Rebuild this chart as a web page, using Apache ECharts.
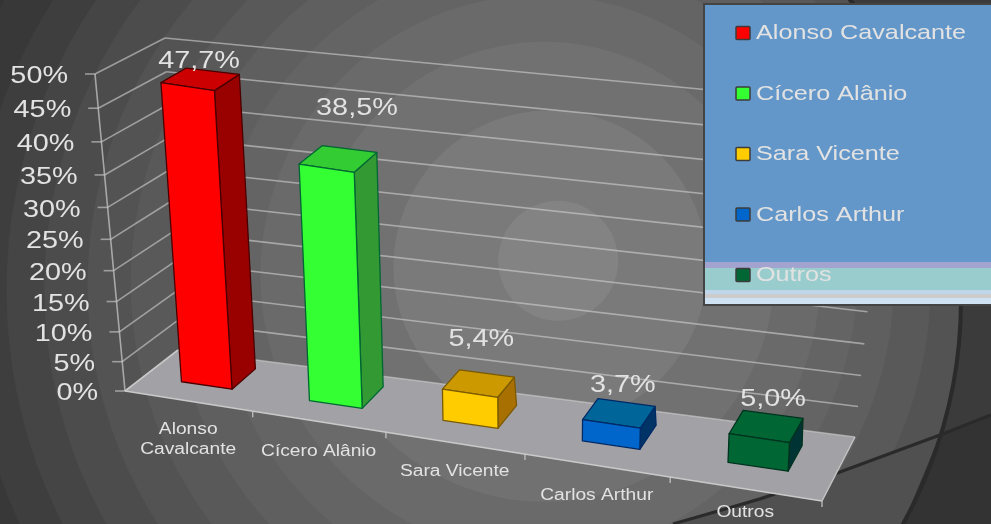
<!DOCTYPE html>
<html>
<head>
<meta charset="utf-8">
<style>html,body{margin:0;padding:0;background:#333}#main{width:991px;height:524px}#main canvas{filter:blur(0.7px)}</style>
<script src="https://cdn.jsdelivr.net/npm/echarts@6/dist/echarts.min.js"></script>
</head>
<body>
<div id="main"></div>
<script>
var categories = ['Alonso Cavalcante', 'Cícero Alânio', 'Sara Vicente', 'Carlos Arthur', 'Outros'];
var axisLabels = ['Alonso\nCavalcante', 'Cícero Alânio', 'Sara Vicente', 'Carlos Arthur', 'Outros'];
var shares = [47.7, 38.5, 5.4, 3.7, 5.0];
var shareLabels = ['47,7%', '38,5%', '5,4%', '3,7%', '5,0%'];
var yTicks = [0, 5, 10, 15, 20, 25, 30, 35, 40, 45, 50];
var yTickLabels = ['0%', '5%', '10%', '15%', '20%', '25%', '30%', '35%', '40%', '45%', '50%'];

var frontColors = ['#ff0000', '#33ff33', '#ffcc00', '#0066cc', '#006633'];
var sideColors = ['#990000', '#339933', '#a87000', '#003366', '#003333'];
var topColors = ['#cc0000', '#33cc33', '#cc9900', '#006699', '#006633'];
var edgeColors = ['#4a0000', '#006633', '#7a5a00', '#002a66', '#00331f'];

// the picture is a perspective box: corners of it on screen, [width, depth, height]
var box = {
    '000': [125, 391], '100': [822, 501], '010': [178, 350], '110': [855, 437],
    '001': [95, 74], '101': [832, 205], '011': [165, 38], '111': [888, 107]
};
var textFont = '"Liberation Sans", Arial, sans-serif';
var textColor = '#e2e2e2';

function warp(t, k) {
    return t / (t + k * (1 - t));
}
function mix(a, b, t) {
    return [a[0] + (b[0] - a[0]) * t, a[1] + (b[1] - a[1]) * t];
}
// u, v come in 0..1 from the axes of the grid, z is the depth on the floor
function project(u, z, v) {
    var wu = warp(u, 1.114), wv = warp(v, 1.09);
    var low = mix(mix(box['000'], box['100'], wu), mix(box['010'], box['110'], wu), z);
    var high = mix(mix(box['001'], box['101'], wu), mix(box['011'], box['111'], wu), z);
    return mix(low, high, wv);
}
function axisU(params, x) {
    return (x - params.coordSys.x) / params.coordSys.width;
}
function axisV(params, y) {
    return 1 - (y - params.coordSys.y) / params.coordSys.height;
}
function line(a, b, color, width) {
    return {
        type: 'line',
        shape: {x1: a[0], y1: a[1], x2: b[0], y2: b[1]},
        style: {stroke: color, lineWidth: width}
    };
}
function poly(points, fill, stroke) {
    return {
        type: 'polygon',
        shape: {points: points},
        style: {fill: fill, stroke: stroke, lineWidth: 1.3, lineJoin: 'round'}
    };
}
function label(text, x, y, size, align, valign, leading) {
    return {
        type: 'text',
        x: x,
        y: y,
        scaleX: 1.2,
        style: {
            text: text,
            font: size + 'px ' + textFont,
            fill: textColor,
            align: align,
            verticalAlign: valign,
            lineHeight: leading || size + 3
        }
    };
}

function renderFloor(params, api) {
    var a = project(0, 0, 0), b = project(1, 0, 0), c = project(1, 1, 0), d = project(0, 1, 0);
    return {
        type: 'group',
        children: [
            poly([a, b, c, d], '#a2a2a6', null),
            line(a, b, '#c9c9c9', 1.6),
            line(b, c, '#c4c4c4', 1.4),
            line(a, d, '#c4c4c4', 1.4)
        ]
    };
}

function renderWall(params, api) {
    var v = axisV(params, api.coord([0, api.value(1)])[1]);
    var front = project(0, 0, v), back = project(0, 1, v), right = project(1, 1, v);
    var grid = 'rgba(205,205,205,0.62)';
    return {
        type: 'group',
        children: [
            line(front, back, grid, 1.6),
            line(back, right, grid, 1.6),
            line([front[0] - 10, front[1]], front, grid, 1.6),
            label(yTickLabels[params.dataIndex], front[0] - 27, front[1] + 2.5, 24, 'right', 'middle')
        ]
    };
}

function renderAxisLines() {
    return line(project(0, 0, 0), project(0, 0, 1), 'rgba(205,205,205,0.7)', 1.6);
}

var xLabelDrop = [19, 20, 19, 20, 14];
function renderXAxis(params, api) {
    var i = params.dataIndex;
    var center = axisU(params, api.coord([i, 0])[0]);
    var band = api.size([1, 0])[0] / params.coordSys.width;
    var pos = project(center, 0, 0);
    var children = [];
    var tick = project(center + band / 2, 0, 0);
    children.push(line(tick, [tick[0], tick[1] + 6], '#c9c9c9', 1.2));
    children.push(label(axisLabels[i], pos[0], pos[1] + xLabelDrop[i], 16, 'center', 'top', 20));
    return {type: 'group', children: children};
}

var barZ = 0.36;
var barWidth = 0.4;
var shareShift = [[-1, -18], [19, -50], [3, -44], [4, -28], [7, -27]];
function renderBar(params, api) {
    var i = params.dataIndex;
    var point = api.coord([i, api.value(1)]);
    var center = axisU(params, point[0]);
    var band = api.size([1, 0])[0] / params.coordSys.width;
    var h = axisV(params, point[1]);
    var l = center - band * barWidth / 2, r = center + band * barWidth / 2;
    var f = barZ;
    // the bars get shallower towards their tops and towards the right
    var bottomBack = 0.83 - 0.07 * center, topBack = 0.73;
    var edge = edgeColors[i];
    var top = project(center, (f + topBack) / 2, h);
    return {
        type: 'group',
        children: [
            poly([project(r, f, 0), project(r, bottomBack, 0), project(r, topBack, h), project(r, f, h)], sideColors[i], edge),
            poly([project(l, f, h), project(r, f, h), project(r, topBack, h), project(l, topBack, h)], topColors[i], edge),
            poly([project(l, f, 0), project(r, f, 0), project(r, f, h), project(l, f, h)], frontColors[i], edge),
            label(shareLabels[i], top[0] + shareShift[i][0], top[1] + shareShift[i][1], 24, 'center', 'middle')
        ]
    };
}

function renderLegend(params, api) {
    var i = params.dataIndex;
    var y = 33.5 + i * 60.5;
    return {
        type: 'group',
        children: [
            {
                type: 'rect',
                shape: {x: 736, y: y - 7, width: 14, height: 13, r: 1},
                style: {fill: frontColors[i], stroke: '#3c3c3c', lineWidth: 1.5}
            },
            label(categories[i], 756, y, 21, 'left', 'middle')
        ]
    };
}

// concentric shading of the slide behind the chart, outer rings drift down and left
var rings = [
    [640, '#343434'], [590, '#383838'], [550, '#3e3e3e'], [515, '#454545'], [480, '#4c4c4c'], [440, '#535353'],
    [400, '#595959'], [360, '#5f5f5f'], [320, '#646464'], [280, '#6a6a6a'], [230, '#717171'],
    [157, '#7a7a7a'], [60, '#838383']
];
var graphics = rings.map(function (ring) {
    return {
        type: 'circle', silent: true, z: -10,
        shape: {cx: 563 - ring[0] / 620 * 50, cy: 257 + ring[0] / 620 * 40, r: ring[0]},
        style: {fill: ring[1]}
    };
});
graphics.push(
    {type: 'arc', silent: true, z: -9, shape: {cx: 500, cy: 300, r: 711, startAngle: -1.2, endAngle: 1.2},
        style: {stroke: '#3b3b3b', lineWidth: 500, fill: null}},
    {type: 'polygon', silent: true, z: -9, shape: {points: [[673, 524], [840, 472], [940, 435], [903, 524]]},
        style: {fill: '#505050'}},
    {type: 'polygon', silent: true, z: -9, shape: {points: [[940, 435], [991, 415], [991, 524], [903, 524]]},
        style: {fill: '#333333'}},
    {type: 'arc', silent: true, z: -8, shape: {cx: 500, cy: 300, r: 461, startAngle: -1.2, endAngle: 1.2},
        style: {stroke: '#2a2a2a', lineWidth: 4, fill: null}},
    {type: 'polyline', silent: true, z: -8, shape: {points: [[673, 524], [760, 499], [840, 472], [940, 435], [991, 415]]},
        style: {stroke: '#2a2a2a', lineWidth: 3, fill: null}},
    // legend box
    {type: 'rect', silent: true, z: 20, shape: {x: 704, y: 4, width: 290, height: 301},
        style: {fill: '#6497c9', stroke: '#444444', lineWidth: 2}},
    {type: 'rect', silent: true, z: 21, shape: {x: 705, y: 262, width: 286, height: 6}, style: {fill: '#a3a3cf'}},
    {type: 'rect', silent: true, z: 21, shape: {x: 705, y: 268, width: 286, height: 22}, style: {fill: '#99cccc'}},
    {type: 'rect', silent: true, z: 21, shape: {x: 705, y: 290, width: 286, height: 4}, style: {fill: '#c0d6ea'}},
    {type: 'rect', silent: true, z: 21, shape: {x: 705, y: 294, width: 286, height: 4}, style: {fill: '#cccccc'}},
    {type: 'rect', silent: true, z: 21, shape: {x: 705, y: 298, width: 286, height: 6}, style: {fill: '#cfe2f3'}}
);

function custom(name, data, renderItem, z) {
    return {
        name: name,
        type: 'custom',
        coordinateSystem: 'cartesian2d',
        data: data,
        encode: {x: 0, y: 1},
        clip: false,
        silent: true,
        z: z,
        renderItem: renderItem
    };
}
function pairs(values) {
    return values.map(function (v, i) {
        return [i, v];
    });
}

var chart = echarts.init(document.getElementById('main'));
chart.setOption({
    animation: false,
    backgroundColor: '#333333',
    graphic: graphics,
    grid: {left: 0, right: 0, top: 0, bottom: 0},
    xAxis: {type: 'category', data: categories, show: false},
    yAxis: {type: 'value', min: 0, max: 50, interval: 5, show: false},
    series: [
        custom('piso', [[0, 0]], renderFloor, 1),
        custom('grade', yTicks.map(function (t) { return [0, t]; }), renderWall, 2),
        custom('eixo', [[0, 0]], renderAxisLines, 3),
        custom('categorias', pairs(shares), renderXAxis, 3),
        custom('votos', pairs(shares), renderBar, 4),
        custom('legenda', pairs(shares), renderLegend, 30)
    ]
});
</script>
</body>
</html>
